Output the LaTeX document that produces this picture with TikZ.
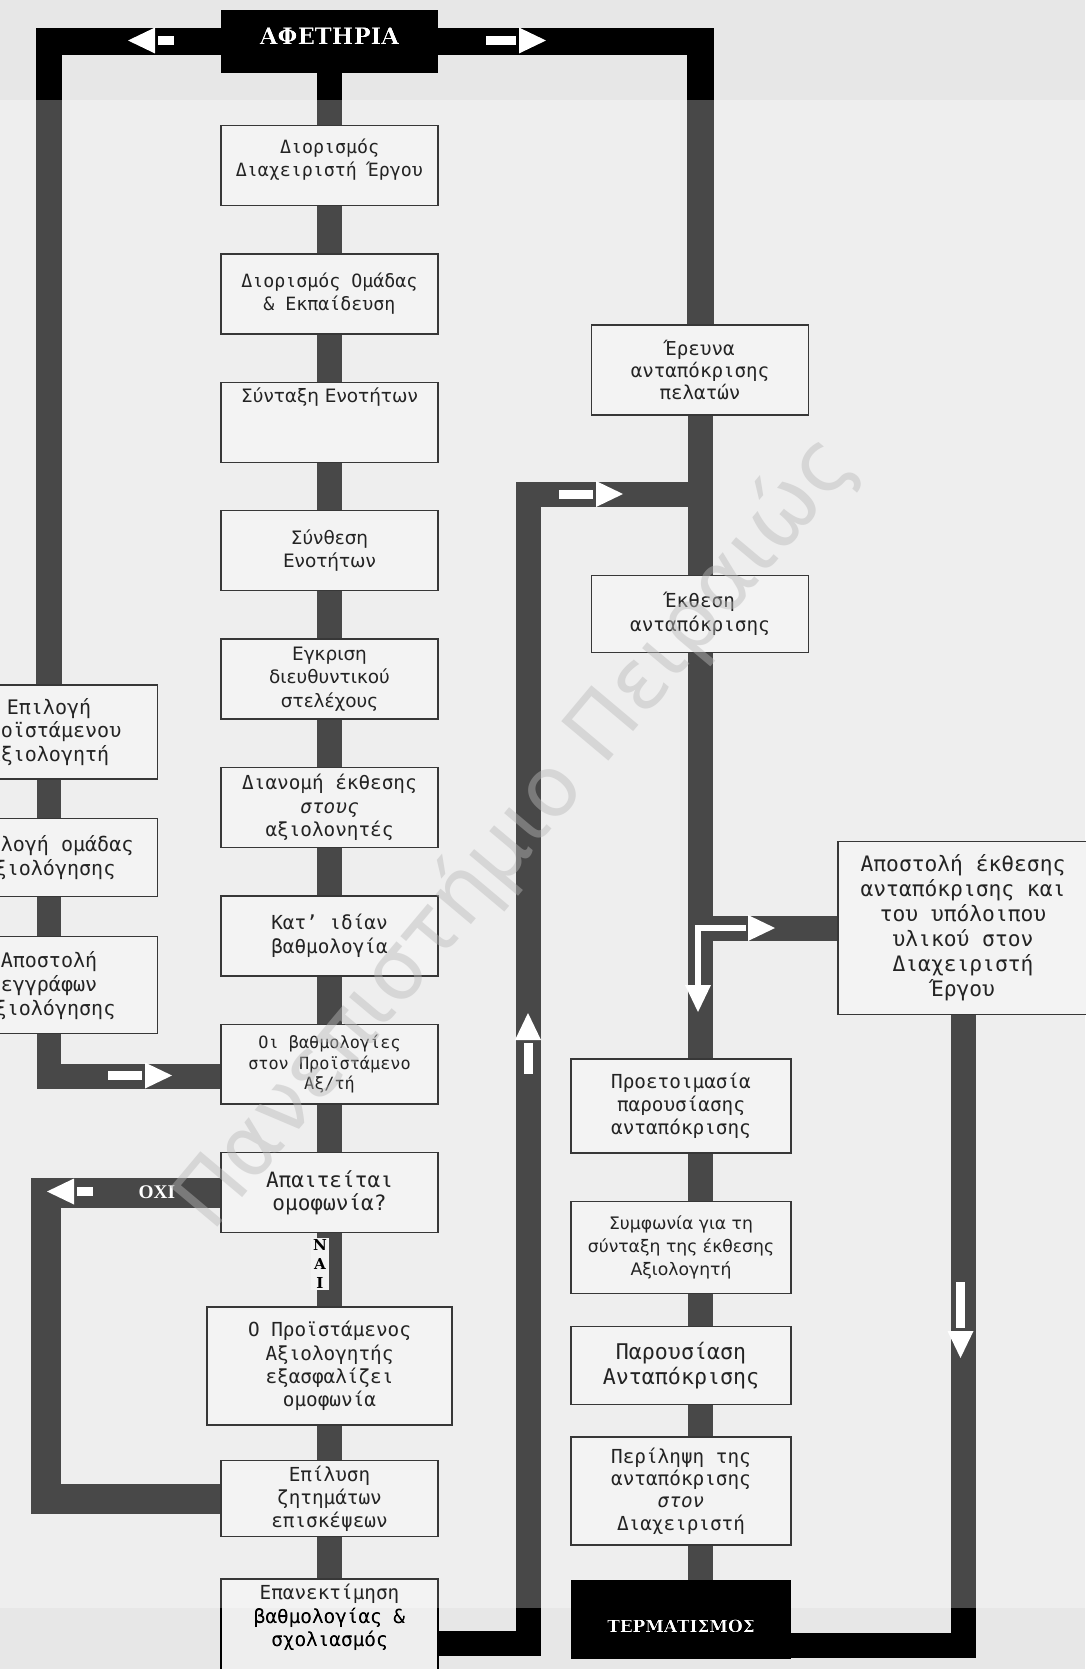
\documentclass[tikz,border=0pt]{standalone}
\usepackage{fontspec}
\usepackage{xcolor}
\usepackage{tikz}
\usetikzlibrary{positioning, calc, backgrounds}
\setmainfont{DejaVu Sans Mono}
\newfontfamily\plainsans{DejaVu Sans}
\newfontfamily\slabfont{DejaVu Serif}
\newfontfamily\serifbold{Liberation Serif}
\definecolor{paper}{RGB}{238,238,238}
\definecolor{boxfill}{RGB}{243,243,243}
\definecolor{boxline}{RGB}{55,55,55}
\definecolor{barcol}{RGB}{72,72,72}
\definecolor{inkcol}{RGB}{35,35,35}
\definecolor{stampcol}{RGB}{185,185,185}
\tikzset{
	pics/whead/.style={code={\fill[white] (-27,-13) -- (0,0) -- (-27,13) -- cycle;}},
	pics/wharrow/.style={code={
		\fill[white] (-27,-13) -- (0,0) -- (-27,13) -- cycle;
		\fill[white] (-30-#1,-4.5) rectangle (-30,4.5);}}
}

\begin{document}
\begin{tikzpicture}[
			x=0.02cm, y=-0.02cm,
			node distance=0.94cm,
			taskbox/.style={rectangle, draw=boxline, line width=0.8pt, fill=boxfill, text=inkcol, align=center, minimum width=4.34cm, minimum height=1.6cm, inner sep=3pt, font=\fontsize{11pt}{13.2pt}\selectfont},
			endbox/.style={rectangle, fill=black, text=white, minimum width=4.34cm, minimum height=1.26cm},
			sanstext/.style={font=\plainsans\fontsize{10.5pt}{13.4pt}\selectfont},
			flowbar/.style={draw=barcol, line width=0.5cm},
			topbar/.style={flowbar, line width=0.54cm},
			loopbar/.style={flowbar, line width=0.6cm}
		]
		\useasboundingbox (0,0) rectangle (1085,1669);
		\node[endbox, text depth=0.21cm, font=\slabfont\bfseries\fontsize{13pt}{13pt}\selectfont] (start) at (329.5,41.5) {ΑΦΕΤΗΡΙΑ};
		\node[taskbox, text depth=0.31cm, font=\fontsize{10.4pt}{12.7pt}\selectfont, below=1.03cm of start] (mgr) {Διορισμός\\Διαχειριστή Έργου};
		\node[taskbox, font=\fontsize{10.4pt}{12.9pt}\selectfont, below=of mgr] (team) {Διορισμός Ομάδας\\\& Εκπαίδευση};
		\node[taskbox, sanstext, below=of team] (draft) {\parbox[c][1.38cm][t]{4cm}{\centering Σύνταξη Ενοτήτων}};
		\node[taskbox, sanstext, below=of draft] (synth) {Σύνθεση\\Ενοτήτων};
		\node[taskbox, sanstext, below=of synth] (approve) {Εγκριση\\διευθυντικού\\στελέχους};
		\node[taskbox, below=of approve] (distrib) {Διανομή έκθεσης\\\textit{στους}\\αξιολονητές};
		\node[taskbox, below=of distrib] (score) {Κατ' ιδίαν\\βαθμολογία};
		\node[taskbox, font=\fontsize{9.6pt}{11.8pt}\selectfont, below=of score] (scores) {Οι βαθμολογίες\\στον Προϊστάμενο\\Αξ/τή};
		\node[taskbox, font=\fontsize{12pt}{13.4pt}\selectfont, below=of scores] (consensus) {Απαιτείται\\ομοφωνία?};
		\node[taskbox, minimum width=4.9cm, minimum height=2.36cm, below=1.46cm of consensus] (lead) {Ο Προϊστάμενος\\Αξιολογητής\\εξασφαλίζει\\ομοφωνία};
		\node[taskbox, minimum height=1.52cm, below=0.68cm of lead] (resolve) {Επίλυση\\ζητημάτων\\επισκέψεων};
		\node[taskbox, minimum height=2.56cm, below=0.82cm of resolve] (reassess) {\parbox[c][2.36cm][t]{4cm}{\centering Επανεκτίμηση\\βαθμολογίας \&\\σχολιασμός}};

		\node[taskbox, font=\fontsize{11.4pt}{13.6pt}\selectfont, minimum height=1.88cm] (pickhead) at (49,732) {Επιλογή\\Προϊστάμενου\\Αξιολογητή};
		\node[taskbox, font=\fontsize{11.4pt}{13.9pt}\selectfont, minimum height=1.56cm, below=0.76cm of pickhead] (pickteam) {Επιλογή ομάδας\\αξιολόγησης};
		\node[taskbox, font=\fontsize{11.4pt}{13.6pt}\selectfont, minimum height=1.94cm, below=0.78cm of pickteam] (senddocs) {Αποστολή\\εγγράφων\\αξιολόγησης};

		\node[taskbox, font=\fontsize{10.9pt}{12.6pt}\selectfont, minimum height=1.8cm] (survey) at (700,370) {Έρευνα\\ανταπόκρισης\\πελατών};
		\node[taskbox, minimum height=1.54cm, below=3.18cm of survey] (report) {Έκθεση\\ανταπόκρισης};
		\node[taskbox, minimum width=5cm, minimum height=3.46cm, font=\fontsize{12.1pt}{14.2pt}\selectfont] (dispatch) at (963,928) {Αποστολή έκθεσης\\ανταπόκρισης και\\του υπόλοιπου\\υλικού στον\\Διαχειριστή\\Έργου};
		\node[taskbox, minimum width=4.4cm, minimum height=1.88cm] (prep) at (681,1106) {Προετοιμασία\\παρουσίασης\\ανταπόκρισης};
		\node[taskbox, font=\plainsans\fontsize{9.8pt}{13.2pt}\selectfont, minimum width=4.4cm, minimum height=1.84cm, below=0.94cm of prep] (agree) {Συμφωνία για τη\\σύνταξη της έκθεσης\\Αξιολογητή};
		\node[taskbox, font=\fontsize{12.3pt}{13.9pt}\selectfont, minimum width=4.4cm, minimum height=1.56cm, below=0.64cm of agree] (present) {Παρουσίαση\\Ανταπόκρισης};
		\node[taskbox, font=\fontsize{11pt}{12.6pt}\selectfont, minimum width=4.4cm, minimum height=2.16cm, below=0.62cm of present] (summary) {Περίληψη της\\ανταπόκρισης\\\textit{στον}\\Διαχειριστή};
		\node[endbox, minimum width=4.4cm, minimum height=1.58cm, text height=0.53cm, font=\slabfont\bfseries\fontsize{9.6pt}{9.6pt}\selectfont, below=0.68cm of summary] (finish) {ΤΕΡΜΑΤΙΣΜΟΣ};

		\node[text=white, font=\serifbold\bfseries\fontsize{11pt}{11pt}\selectfont, left=0.78cm of consensus] (nolabel) {ΟΧΙ};
		\node[fill=boxfill, inner sep=1pt, align=center, font=\slabfont\bfseries\fontsize{8.6pt}{10.6pt}\selectfont] (yeslabel) at (320,1264) {Ν\\Α\\Ι};

		\coordinate (nocorner) at (46,1496);
		\coordinate (uturn) at (528,494);
		\coordinate (rejoin) at (700,494);

		\begin{scope}[on background layer]
			\fill[paper] (0,0) rectangle (1085,1669);
			\draw[topbar] (start) -| (pickhead);
			\draw[topbar] (start) -| (survey);
			\draw[flowbar] (pickhead) -- (pickteam);
			\draw[flowbar] (pickteam) -- (senddocs);
			\draw[flowbar] (senddocs) |- ([yshift=-0.24cm]scores.west);
			\foreach \a/\b in {start/mgr, mgr/team, team/draft, draft/synth, synth/approve, approve/distrib, distrib/score, score/scores, scores/consensus, consensus/lead, lead/resolve, resolve/reassess}
				\draw[flowbar] (\a) -- (\b);
			\draw[loopbar] (consensus) -| (nocorner) |- (resolve);
			\draw[flowbar] (reassess) -| (uturn) -- (rejoin);
			\draw[flowbar] (survey) -- (report);
			\draw[flowbar] (report) -- (report |- prep.north);
			\foreach \a/\b in {prep/agree, agree/present, present/summary, summary/finish}
				\draw[flowbar] (report |- \a) -- (report |- \b);
			\draw[flowbar] (report |- dispatch) -- (dispatch);
			\draw[flowbar] (dispatch) |- ([yshift=-0.51cm]finish.east);
		\end{scope}

		\pic[rotate=180] at (128,40.5) {wharrow=16};
		\pic at (546,40.5) {wharrow=30};
		\pic at (172,1075.5) {wharrow=34};
		\pic[rotate=180] at (47,1191.5) {wharrow=16};
		\pic at (623,494) {wharrow=34};
		\pic[rotate=90] at (528,1013) {wharrow=31};
		\pic[rotate=-90] at (960.5,1358) {wharrow=46};
		\pic at (775,928) {whead};
		\pic[rotate=-90] at (698,1012) {whead};
		\draw[white, line width=0.12cm] (746,928) -| (698,985);

		\node[rotate=50, text=stampcol, opacity=0.45, font=\plainsans\fontsize{48pt}{48pt}\selectfont] (stamp) at (516,833) {Πανεπιστήμιο Πειραιώς};

		\fill[blend mode=color burn, black!30] (0,0) rectangle (1085,100);
		\fill[blend mode=color burn, black!30] (0,1608) rectangle (1085,1669);
\end{tikzpicture}
\end{document}
